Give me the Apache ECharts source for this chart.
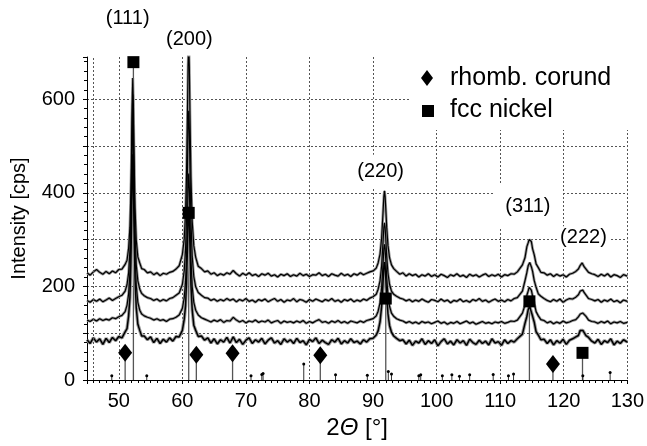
<!DOCTYPE html>
<html>
<head>
<meta charset="utf-8">
<script src="https://cdn.jsdelivr.net/npm/echarts@6/dist/echarts.min.js"></script>
<style>
  html, body { margin: 0; padding: 0; background: #fff; }
  #chart { width: 647px; height: 446px; }
</style>
</head>
<body>
<div id="chart"></div>
<script>
// Diffraction angle grid (2θ, degrees), denser around the Ni reflections
const twoTheta = [
  45, 45.5, 46, 46.5, 47, 47.5, 48, 48.5, 49, 49.5, 50, 50.5,
  51.0, 51.3, 51.55, 51.75, 51.9, 52.0, 52.1, 52.2, 52.3, 52.4, 52.55, 52.75, 53.0, 53.3, 53.6,
  54, 54.5, 55, 55.5, 56, 56.5, 57, 57.5, 58, 58.5, 59, 59.5,
  60.0, 60.3, 60.5, 60.65, 60.8, 60.9, 61.0, 61.1, 61.2, 61.35, 61.55, 61.8, 62.1, 62.5,
  63, 63.5, 64, 64.5, 65, 65.5, 66, 66.5, 67, 67.5,
  68, 68.5, 69, 69.5, 70, 70.5, 71, 71.5, 72, 72.5,
  73, 73.5, 74, 74.5, 75, 75.5, 76, 76.5, 77, 77.5,
  78, 78.5, 79, 79.5, 80, 80.5, 81, 81.5, 82, 82.5,
  83, 83.5, 84, 84.5, 85, 85.5, 86, 86.5, 87, 87.5,
  88, 88.5, 89, 89.5, 90, 90.5,
  90.8, 91.1, 91.35, 91.55, 91.7, 91.8, 91.9, 92.0, 92.15, 92.35, 92.6, 92.9, 93.25,
  93.7, 94.2, 94.7, 95.2, 95.7, 96.2, 96.7, 97.2, 97.7, 98.2,
  98.7, 99.2, 99.7, 100.2, 100.7, 101.2, 101.7, 102.2, 102.7, 103.2,
  103.7, 104.2, 104.7, 105.2, 105.7, 106.2, 106.7, 107.2, 107.7, 108.2,
  108.7, 109.2, 109.7, 110.2, 110.7, 111.2, 111.7, 112.2, 112.7,
  113.0, 113.5, 113.9, 114.2, 114.4, 114.55, 114.65, 114.75, 114.9, 115.1, 115.35, 115.65, 116.0, 116.4, 116.9,
  117.4, 117.9, 118.4, 118.9, 119.4, 119.9, 120.4, 120.9, 121.4,
  121.9, 122.3, 122.6, 122.8, 122.9, 123.0, 123.2, 123.5, 123.9, 124.4,
  124.9, 125.4, 125.9, 126.4, 126.9, 127.4, 127.9, 128.4, 128.9, 129.4, 130.0
];

// Measured intensities [cps], four samples stacked with offsets
const scanA = [
  229, 224, 231, 236, 230, 226, 232, 227, 233, 229, 236, 237,
  247, 256, 282, 326, 399, 482, 587, 645, 587, 482, 369, 299, 263, 250, 238,
  236, 229, 231, 225, 229, 223, 228, 226, 230, 232, 237, 244,
  268, 302, 356, 435, 566, 669, 718, 669, 566, 435, 339, 287, 262, 243,
  238, 231, 233, 226, 229, 223, 227, 224, 229, 226,
  234, 227, 222, 228, 224, 229, 223, 226, 221, 227,
  224, 228, 222, 225, 220, 226, 223, 227, 221, 225,
  222, 228, 223, 226, 221, 225, 224, 229, 223, 226,
  221, 227, 224, 222, 228, 223, 226, 221, 227, 224,
  229, 225, 228, 231, 233, 239,
  250, 269, 303, 353, 392, 404, 392, 367, 326, 287, 261, 246, 238,
  232, 226, 229, 222, 227, 223, 226, 220, 225, 222,
  227, 221, 225, 220, 226, 223, 219, 225, 222, 227,
  221, 224, 219, 226, 222, 225, 220, 224, 227, 221,
  225, 222, 226, 220, 225, 223, 227, 226, 231,
  233, 246, 261, 285, 293, 300, 304, 299, 296, 280, 268, 248, 240, 230, 229,
  224, 227, 221, 226, 222, 225, 220, 226, 228,
  232, 237, 245, 244, 250, 247, 242, 238, 230, 227,
  225, 221, 226, 222, 227, 220, 225, 223, 219, 225, 222
];
const scanB = [
  170, 166, 172, 168, 173, 167, 171, 175, 170, 174, 178, 181,
  190, 204, 229, 276, 352, 439, 550, 610, 550, 439, 320, 246, 212, 194, 185,
  180, 176, 174, 170, 173, 168, 172, 169, 174, 176, 181, 186,
  204, 234, 278, 342, 451, 535, 575, 535, 451, 342, 264, 221, 199, 187,
  181, 176, 175, 170, 173, 168, 172, 169, 174, 170,
  173, 167, 172, 169, 174, 168, 171, 166, 172, 169,
  173, 167, 171, 174, 168, 172, 166, 171, 169, 174,
  167, 172, 170, 166, 172, 168, 173, 170, 167, 172,
  169, 174, 168, 171, 166, 172, 169, 173, 167, 171,
  168, 173, 170, 175, 178, 183,
  194, 212, 244, 290, 326, 336, 326, 303, 264, 228, 204, 190, 183,
  179, 175, 173, 169, 172, 167, 171, 168, 173, 169,
  166, 172, 170, 167, 173, 168, 171, 165, 170, 168,
  173, 167, 170, 166, 172, 169, 174, 168, 171, 166,
  170, 173, 168, 171, 167, 172, 169, 174, 176,
  179, 190, 212, 230, 244, 248, 251, 247, 242, 232, 213, 198, 184, 179, 174,
  170, 167, 172, 168, 173, 166, 171, 174, 173,
  177, 182, 190, 190, 194, 192, 187, 183, 174, 172,
  169, 172, 166, 171, 168, 173, 167, 170, 165, 171, 168
];
const scanC = [
  128, 125, 130, 126, 131, 127, 130, 128, 133, 131, 135, 138,
  146, 160, 184, 230, 305, 392, 500, 560, 500, 392, 274, 202, 166, 149, 141,
  137, 134, 132, 128, 131, 127, 129, 125, 130, 131, 134, 139,
  153, 176, 210, 260, 344, 410, 441, 410, 344, 260, 199, 166, 149, 139,
  133, 130, 127, 124, 128, 125, 129, 123, 127, 126,
  134, 128, 124, 127, 122, 126, 124, 128, 123, 126,
  124, 128, 122, 125, 127, 121, 126, 123, 125, 122,
  126, 123, 127, 121, 125, 122, 126, 129, 123, 125,
  121, 126, 123, 127, 122, 125, 121, 126, 124, 122,
  126, 123, 127, 129, 131, 137,
  147, 165, 197, 243, 280, 290, 280, 257, 218, 181, 157, 143, 136,
  131, 128, 126, 122, 125, 121, 124, 120, 125, 122,
  124, 120, 123, 126, 121, 124, 119, 123, 121, 125,
  120, 123, 126, 121, 124, 119, 122, 125, 121, 123,
  120, 124, 122, 125, 121, 123, 126, 125, 128,
  131, 143, 160, 181, 190, 198, 199, 195, 192, 179, 165, 146, 137, 129, 127,
  122, 125, 120, 124, 121, 126, 122, 124, 127,
  129, 135, 141, 144, 145, 143, 140, 136, 128, 125,
  124, 121, 125, 122, 126, 120, 124, 122, 125, 121, 123
];
const scanD = [
  86, 78, 90, 81, 88, 76, 89, 80, 91, 84, 93, 90,
  103, 110, 137, 176, 249, 327, 427, 482, 427, 327, 219, 154, 119, 106, 94,
  94, 86, 92, 80, 89, 78, 87, 81, 90, 83, 93, 92,
  106, 130, 158, 207, 280, 343, 370, 341, 283, 204, 150, 117, 106, 93,
  94, 85, 90, 79, 88, 77, 86, 81, 91, 79,
  92, 80, 87, 76, 85, 90, 78, 86, 81, 89,
  77, 85, 90, 79, 84, 76, 88, 81, 86, 78,
  89, 80, 84, 75, 87, 82, 90, 78, 85, 80,
  76, 86, 81, 89, 77, 84, 79, 88, 80, 83,
  77, 86, 81, 88, 89, 96,
  105, 124, 157, 204, 242, 252, 242, 218, 178, 141, 116, 102, 94,
  89, 84, 86, 77, 85, 74, 83, 79, 88, 76,
  84, 78, 86, 73, 82, 88, 77, 83, 75, 86,
  79, 84, 74, 87, 80, 76, 85, 78, 83, 75,
  88, 79, 82, 74, 86, 78, 84, 81, 88,
  91, 98, 121, 136, 150, 153, 158, 152, 150, 136, 124, 103, 96, 86, 87,
  78, 86, 75, 84, 79, 87, 76, 85, 88,
  92, 95, 106, 105, 110, 106, 105, 95, 91, 83,
  79, 87, 76, 84, 80, 88, 75, 83, 78, 86, 81
];

// Reference pattern positions [2θ, relative height]
const corundRefs = [[51.0, 58], [62.2, 54], [67.9, 57], [81.7, 53], [118.3, 34]];
const nickelRefs = [[52.3, 679], [61.0, 357], [92.0, 174], [114.6, 168], [122.95, 58]];
const weakRefs = [
  [48.9, 9], [54.4, 9], [70.8, 9], [72.5, 12], [72.7, 14], [79.1, 34], [84.1, 11],
  [89.1, 10], [92.4, 18], [92.9, 13], [97.2, 9], [97.5, 11], [100.9, 9], [102.4, 11],
  [103.6, 8], [105.2, 11], [108.9, 12], [111.3, 9], [112.1, 13], [123.0, 9], [127.3, 16]
];

// Miller indices annotations [2θ, intensity position, text]
const peakLabels = [
  [51.4, 773, '(111)'],
  [61.1, 728, '(200)'],
  [91.2, 446, '(220)'],
  [114.35, 370, '(311)'],
  [123.1, 305, '(222)']
];

const FONT = '"Liberation Sans", Arial, Helvetica, sans-serif';
const pair = ys => twoTheta.map((x, i) => [x, ys[i]]);

function stickItem(color, width, dot) {
  return function (params, api) {
    const x = api.value(0);
    const top = api.coord([x, api.value(1)]);
    const base = api.coord([x, 0]);
    const children = [{
      type: 'line',
      shape: { x1: base[0], y1: base[1], x2: top[0], y2: top[1] },
      style: { stroke: color, lineWidth: width }
    }];
    if (dot) {
      children.push({ type: 'circle', shape: { cx: top[0], cy: top[1], r: 1.5 }, style: { fill: '#000' } });
    }
    return { type: 'group', children };
  };
}

// white boxes behind some indices, hiding the grid behind them
const labelBoxes = {
  '(220)': { backgroundColor: '#fff', padding: [10, 4, 3, 4] },
  '(311)': { backgroundColor: '#fff', padding: [12, 12, 12, 12] },
  '(222)': { backgroundColor: '#fff', padding: [1, 3, 1, 3] }
};

// each scan: grey halo for the counting noise, black trace on top
const traceSeries = [];
[scanA, scanB, scanC, scanD].forEach((ys, k) => {
  const noisy = k === 3;
  traceSeries.push({
    type: 'line', data: pair(ys), showSymbol: false, symbol: 'none', silent: true, z: 3,
    lineStyle: { color: '#9a9a9a', width: noisy ? 3.4 : 2.8 }
  });
  traceSeries.push({
    type: 'line', data: pair(ys), showSymbol: false, symbol: 'none', silent: true, z: 4,
    lineStyle: { color: '#000', width: noisy ? 1.5 : 1.2 }
  });
});

const chart = echarts.init(document.getElementById('chart'), null, { renderer: 'canvas' });
chart.setOption({
  animation: false,
  backgroundColor: '#fff',
  textStyle: { fontFamily: FONT },
  grid: { left: 87, right: 17, top: 57, bottom: 66 },
  xAxis: {
    type: 'value', min: 45, max: 130, splitNumber: 8,
    name: '{n|2}{i|Θ}{n| [°]}',
    nameLocation: 'middle', nameGap: 34,
    nameTextStyle: {
      rich: {
        n: { fontSize: 24, fontFamily: FONT, color: '#000' },
        i: { fontSize: 24, fontFamily: FONT, fontStyle: 'italic', color: '#000' }
      }
    },
    axisLine: { lineStyle: { color: '#000', width: 1 } },
    axisTick: { length: 4, lineStyle: { color: '#000' } },
    minorTick: { show: true, splitNumber: 10, length: 3, lineStyle: { color: '#000' } },
    axisLabel: { color: '#000', fontSize: 20, fontFamily: FONT, margin: 11,
      formatter: v => (v % 10 === 0 ? String(v) : '') },
    splitLine: { show: true, showMinLine: false, lineStyle: { color: '#555', type: [2, 2], width: 1 } }
  },
  yAxis: {
    type: 'value', min: 0, max: 690, interval: 100,
    name: 'Intensity [cps]',
    nameLocation: 'middle', nameGap: 58,
    nameTextStyle: { fontSize: 20, fontFamily: FONT, color: '#000' },
    axisLine: { show: true, lineStyle: { color: '#000', width: 1 } },
    axisTick: { show: true, length: 4, lineStyle: { color: '#000' } },
    minorTick: { show: true, splitNumber: 5, length: 3, lineStyle: { color: '#000' } },
    axisLabel: { color: '#000', fontSize: 20, fontFamily: FONT, margin: 12,
      formatter: v => (v % 200 === 0 ? String(v) : '') },
    splitLine: { show: true, showMinLine: false, showMaxLine: false,
      lineStyle: { color: '#555', type: [2, 2], width: 1 } }
  },
  series: [
    {
      type: 'custom', name: 'reference sticks',
      data: corundRefs.concat(nickelRefs),
      renderItem: stickItem('#555', 1.3, false),
      z: 2, silent: true,
      markLine: {
        silent: true, symbol: 'none', label: { show: false },
        lineStyle: { color: '#555', type: [2, 2], width: 1 },
        data: [{ xAxis: 46 }]
      }
    },
    {
      type: 'custom', name: 'weak reflections',
      data: weakRefs,
      renderItem: stickItem('#333', 1, true),
      z: 2, silent: true
    },
    ...traceSeries,
    {
      type: 'scatter', name: 'rhomb. corund',
      data: corundRefs, symbol: 'diamond', symbolSize: [14, 18],
      itemStyle: { color: '#000', opacity: 1 }, z: 6, silent: true
    },
    {
      type: 'scatter', name: 'fcc nickel',
      data: nickelRefs, symbol: 'rect', symbolSize: 12,
      itemStyle: { color: '#000', opacity: 1 }, z: 6, silent: true
    },
    {
      type: 'scatter', name: 'hkl',
      clip: false, silent: true, z: 7,
      symbolSize: 1, itemStyle: { color: '#fff', opacity: 1 },
      data: peakLabels.map(d => ({
        value: [d[0], d[1]],
        label: Object.assign({}, labelBoxes[d[2]] || {}, { formatter: d[2] })
      })),
      label: { show: true, position: 'inside', color: '#000', opacity: 1,
        textBorderWidth: 0, fontSize: 20, fontFamily: FONT }
    }
  ],
  graphic: [
    { type: 'rect', shape: { x: 410, y: 38, width: 237, height: 92 }, style: { fill: '#fff' }, z: 10 },
    { type: 'polygon', shape: { points: [[427, 70], [433, 78], [427, 86], [421, 78]] }, style: { fill: '#000' }, z: 11 },
    { type: 'rect', shape: { x: 422, y: 105, width: 12, height: 12 }, style: { fill: '#000' }, z: 11 },
    { type: 'text', x: 450, y: 78, z: 11,
      style: { text: 'rhomb. corund', fill: '#000', fontSize: 25, fontFamily: FONT, verticalAlign: 'middle' } },
    { type: 'text', x: 450, y: 110, z: 11,
      style: { text: 'fcc nickel', fill: '#000', fontSize: 25, fontFamily: FONT, verticalAlign: 'middle' } }
  ]
});
</script>
</body>
</html>
